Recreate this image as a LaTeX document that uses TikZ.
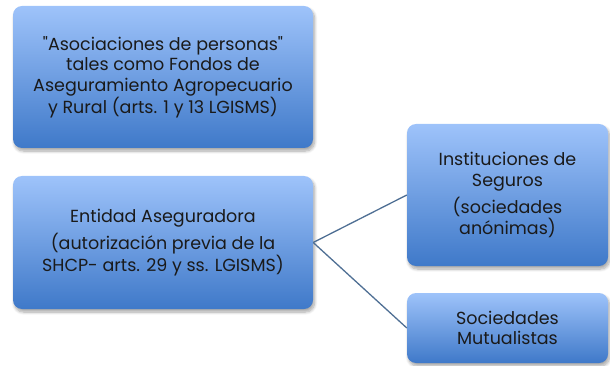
\documentclass[tikz,border=0pt]{standalone}
\usepackage{fontspec}
\setmainfont{Poppins}
\usetikzlibrary{positioning,shadows.blur}
\definecolor{blutop}{HTML}{9EC3FA}
\definecolor{blubot}{HTML}{3F79C9}
\definecolor{ink}{HTML}{1A1A1A}
\definecolor{wire}{HTML}{4F6F94}
\tikzset{
  soft shadow/.style={blur shadow={shadow blur steps=8, shadow xshift=1.5pt,
    shadow yshift=-3pt, shadow blur radius=3pt, shadow opacity=35}},
  blk/.style={rounded corners=9pt, top color=blutop, bottom color=blubot, draw=none,
    align=center, text=ink, inner sep=0pt, soft shadow,
    font=\fontsize{17.5}{20.5}\selectfont},
  link/.style={wire, line width=1.3pt},
}
\begin{document}
\begin{tikzpicture}[x=1pt,y=-1pt]
  \useasboundingbox (0,0) rectangle (610,366);
  \node[blk, minimum width=300pt, minimum height=142pt] (asoc) at (163,77)
    {\textquotedbl Asociaciones de personas\textquotedbl\\tales como Fondos de\\Aseguramiento Agropecuario\\y Rural (arts. 1 y 13 LGISMS)};
  \node[blk, minimum width=300pt, minimum height=133pt] (entidad) at (163,242.5)
    {Entidad Aseguradora\\[5pt](autorización previa de la\\SHCP- arts. 29 y ss. LGISMS)};
  \node[blk, minimum width=201pt, minimum height=142pt] (instit) at (507.5,195)
    {Instituciones de\\Seguros\\[5pt](sociedades\\anónimas)};
  \node[blk, minimum width=201pt, minimum height=70pt] (mutual) at (507.5,328)
    {Sociedades\\Mutualistas};
  \draw[link] (entidad.east) -- (instit.west);
  \draw[link] (entidad.east) -- (mutual.west);
\end{tikzpicture}
\end{document}
